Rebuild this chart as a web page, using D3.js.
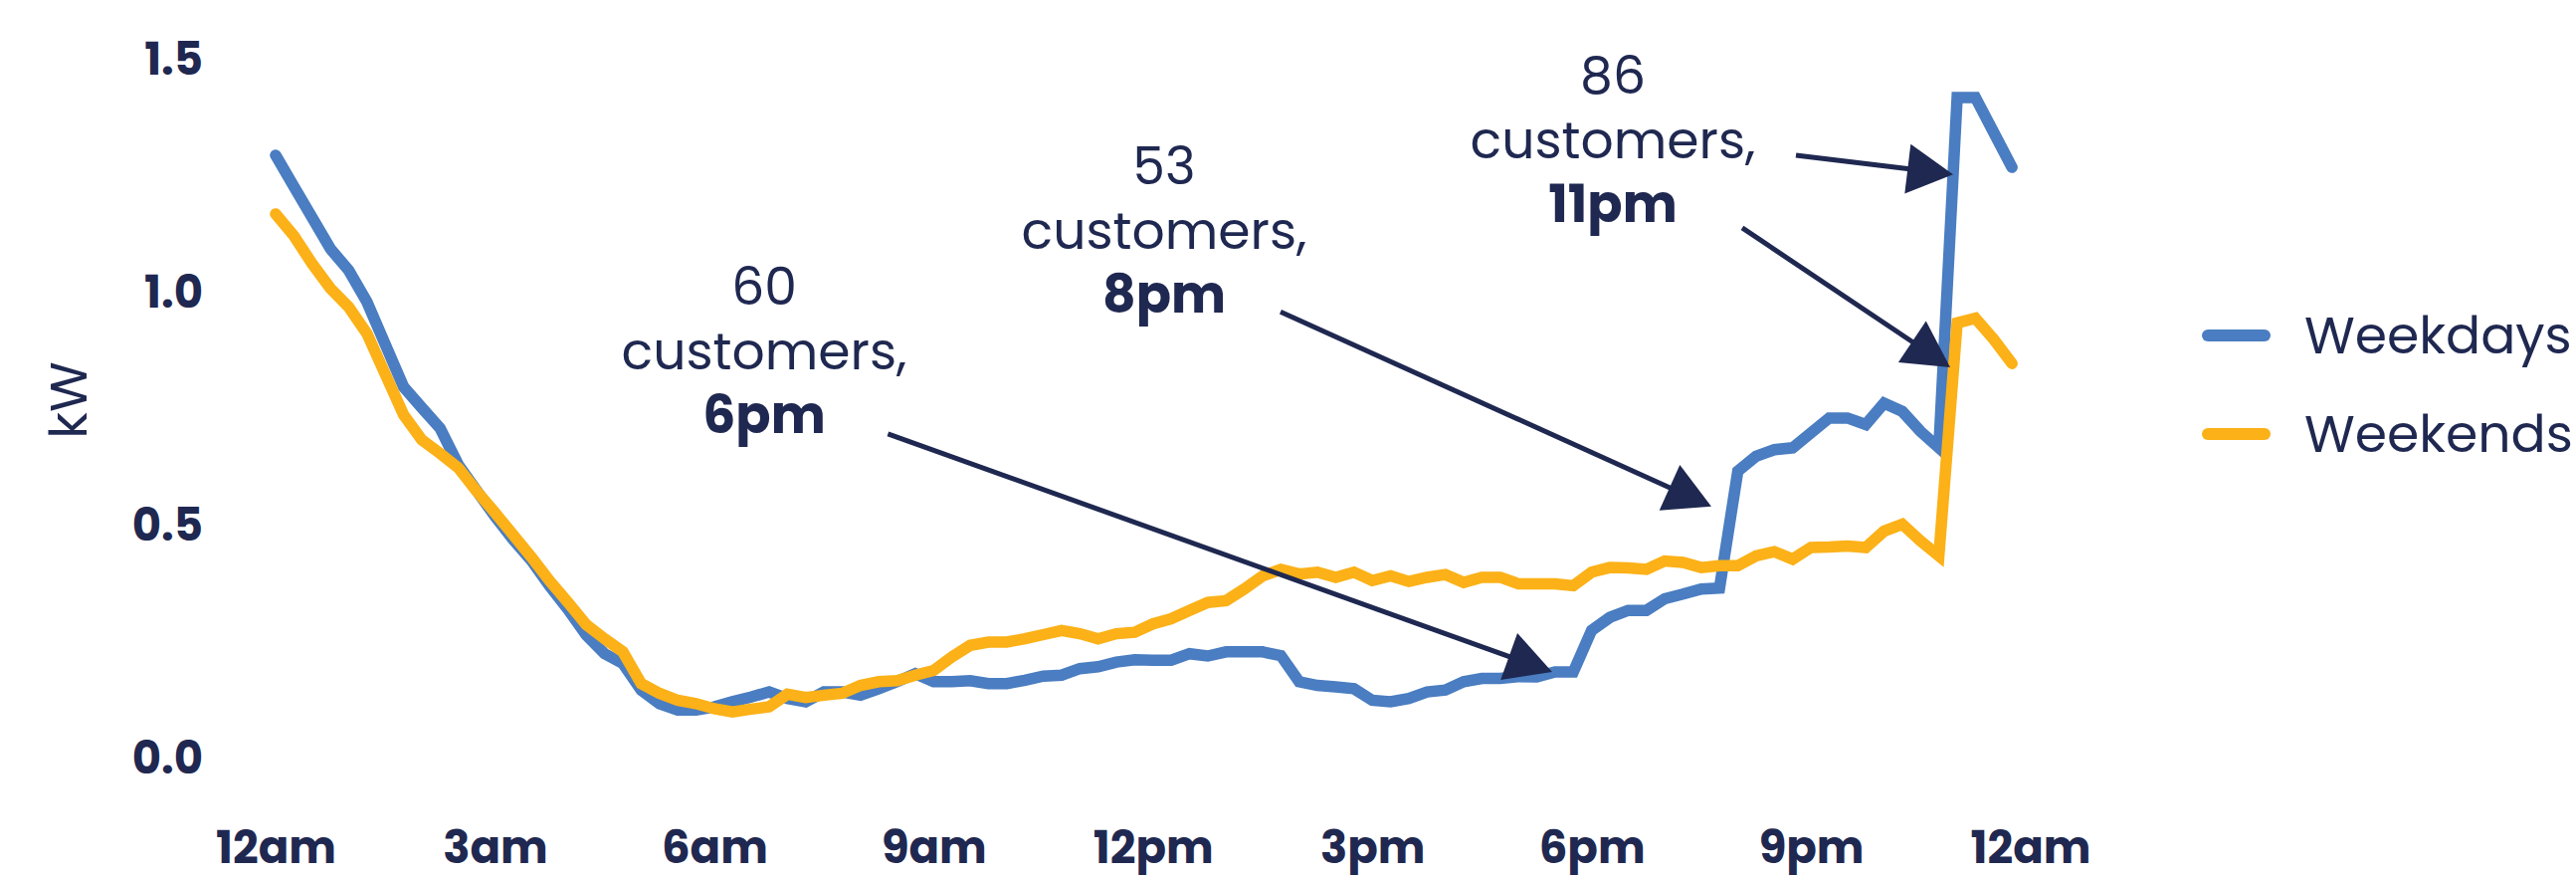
<!DOCTYPE html>
<html>
<head>
<meta charset="utf-8">
<script src="https://cdn.jsdelivr.net/npm/d3@7"></script>
<style>
    body { margin: 0; background: #ffffff; }
    svg { display: block; font-family: Poppins, "DejaVu Sans", sans-serif; }
</style>
</head>
<body>
<svg id="drawSpace" width="2589" height="882"></svg>
<script>
// Global settings
let textColor = "#1f2850"
let weekdayColor = "#4a7dc1"
let weekendColor = "#fbb117"

// Average load (kW) per 15 minute slot, 12am -> 11:45pm
let weekdays = [
    1.295, 1.228, 1.161, 1.094, 1.048, 0.980, 0.889, 0.798, 0.753, 0.709,
    0.630, 0.575, 0.520, 0.470, 0.425, 0.370, 0.320, 0.265, 0.225, 0.204,
    0.147, 0.118, 0.104, 0.104, 0.111, 0.122, 0.132, 0.143, 0.129, 0.122,
    0.143, 0.143, 0.136, 0.150, 0.165, 0.182, 0.165, 0.165, 0.167, 0.161,
    0.161, 0.168, 0.177, 0.179, 0.193, 0.197, 0.207, 0.212, 0.211, 0.211,
    0.225, 0.220, 0.229, 0.229, 0.229, 0.221, 0.165, 0.157, 0.154, 0.150,
    0.125, 0.122, 0.129, 0.143, 0.147, 0.165, 0.172, 0.172, 0.176, 0.175,
    0.186, 0.186, 0.275, 0.303, 0.318, 0.318, 0.343, 0.353, 0.364, 0.366,
    0.617, 0.649, 0.663, 0.667, 0.699, 0.731, 0.731, 0.717, 0.763, 0.745,
    0.702, 0.667, 1.419, 1.419, 1.344, 1.269
]
let weekends = [
    1.169, 1.122, 1.062, 1.009, 0.969, 0.912, 0.825, 0.738, 0.684, 0.655,
    0.624, 0.574, 0.528, 0.480, 0.432, 0.381, 0.335, 0.287, 0.257, 0.229,
    0.161, 0.140, 0.125, 0.118, 0.107, 0.100, 0.106, 0.111, 0.138, 0.131,
    0.136, 0.140, 0.157, 0.165, 0.167, 0.179, 0.189, 0.218, 0.243, 0.250,
    0.250, 0.257, 0.266, 0.275, 0.268, 0.257, 0.268, 0.271, 0.289, 0.300,
    0.318, 0.335, 0.339, 0.364, 0.392, 0.406, 0.396, 0.400, 0.389, 0.400,
    0.382, 0.392, 0.380, 0.389, 0.395, 0.378, 0.389, 0.389, 0.375, 0.375,
    0.375, 0.371, 0.400, 0.410, 0.409, 0.406, 0.424, 0.421, 0.410, 0.414,
    0.414, 0.435, 0.444, 0.428, 0.453, 0.454, 0.456, 0.453, 0.488, 0.503,
    0.467, 0.435, 0.935, 0.945, 0.900, 0.848
]

let seriesNames = ["Weekdays", "Weekends"]
let hourLabels = ["12am", "3am", "6am", "9am", "12pm", "3pm", "6pm", "9pm", "12am"]
let hourSlots = [0, 12, 24, 36, 48, 60, 72, 84, 96]
let kwTicks = [0, 0.5, 1.0, 1.5]

// Callouts: customer count and hour
let noteCounts = ["60", "53", "86"]
let noteTimes = ["6pm", "8pm", "11pm"]

// Callout layout (pixel text anchors, arrows in slot / kW space)
let noteLayout = [
    {x: 768, y: 306},
    {x: 1170, y: 185},
    {x: 1621, y: 94}
]
let arrowLayout = [
    {from: [33.5, 0.697], to: [69.84, 0.186]},
    {from: [54.98, 0.959], to: [78.55, 0.541]},
    {from: [80.24, 1.139], to: [91.62, 0.840]},
    {from: [83.18, 1.295], to: [91.78, 1.254]}
]

let xScale = d3.scaleLinear().domain([0, 96]).range([277, 2040.5])
let yScale = d3.scaleLinear().domain([0, 1.5]).range([762, 60])

function renderAxes(drawSpace) {
    let yAxis = d3.axisLeft(yScale)
        .tickValues(kwTicks)
        .tickFormat(d3.format(".1f"))
        .tickSize(0)
        .tickPadding(0)

    drawSpace.append("g")
        .attr("transform", "translate(204,0)")
        .call(yAxis)
        .call(g => g.select(".domain").remove())
        .attr("font-family", null)
        .attr("font-size", 45)
        .attr("font-weight", "bold")
        .selectAll("text").attr("fill", textColor)

    let xAxis = d3.axisBottom(xScale)
        .tickValues(hourSlots)
        .tickFormat((d, i) => hourLabels[i])
        .tickSize(0)
        .tickPadding(73)

    drawSpace.append("g")
        .attr("transform", "translate(0,762)")
        .call(xAxis)
        .call(g => g.select(".domain").remove())
        .attr("font-family", null)
        .attr("font-size", 45)
        .attr("font-weight", "bold")
        .selectAll("text").attr("fill", textColor)

    // Axis title
    drawSpace.append("text")
        .attr("transform", "translate(68,402) rotate(-90)")
        .attr("text-anchor", "middle")
        .attr("dominant-baseline", "central")
        .attr("font-size", 52)
        .attr("fill", textColor)
        .text("kW")
}

function renderLines(drawSpace) {
    let lineGen = d3.line()
        .x((d, i) => xScale(i))
        .y(d => yScale(d))

    drawSpace.selectAll("path.series")
        .data([
            {name: seriesNames[0], values: weekdays, color: weekdayColor},
            {name: seriesNames[1], values: weekends, color: weekendColor}
        ])
        .enter()
        .append("path")
        .attr("class", "series")
        .attr("d", d => lineGen(d.values))
        .attr("fill", "none")
        .attr("stroke", d => d.color)
        .attr("stroke-width", 11.5)
        .attr("stroke-linecap", "round")
        .attr("stroke-linejoin", "miter")
}

function renderCallouts(drawSpace) {
    let lineHeight = 64.5

    noteLayout.forEach((pos, i) => {
        let t = drawSpace.append("text")
            .attr("text-anchor", "middle")
            .attr("font-size", 52)
            .attr("fill", textColor)
        t.append("tspan").attr("x", pos.x).attr("y", pos.y).text(noteCounts[i])
        t.append("tspan").attr("x", pos.x).attr("y", pos.y + lineHeight).text("customers,")
        t.append("tspan").attr("x", pos.x).attr("y", pos.y + 2 * lineHeight)
            .attr("font-weight", "bold").text(noteTimes[i])
    })

    // Arrows: shaft up to the head base, then a filled triangle
    let headLen = 46, headHalf = 25
    arrowLayout.forEach(a => {
        let x0 = xScale(a.from[0]), y0 = yScale(a.from[1])
        let x1 = xScale(a.to[0]), y1 = yScale(a.to[1])
        let len = Math.hypot(x1 - x0, y1 - y0)
        let ux = (x1 - x0) / len, uy = (y1 - y0) / len
        let bx = x1 - ux * headLen, by = y1 - uy * headLen

        drawSpace.append("line")
            .attr("x1", x0).attr("y1", y0)
            .attr("x2", bx + ux * 4).attr("y2", by + uy * 4)
            .attr("stroke", textColor)
            .attr("stroke-width", 5)

        let head = d3.path()
        head.moveTo(x1, y1)
        head.lineTo(bx - uy * headHalf, by + ux * headHalf)
        head.lineTo(bx + uy * headHalf, by - ux * headHalf)
        head.closePath()
        drawSpace.append("path")
            .attr("d", head.toString())
            .attr("fill", textColor)
    })
}

function renderLegend(drawSpace) {
    let legendY = [337, 436]
    let colors = [weekdayColor, weekendColor]

    let items = drawSpace.selectAll("g.legend")
        .data(seriesNames)
        .enter()
        .append("g")
        .attr("class", "legend")
        .attr("transform", (d, i) => "translate(0," + legendY[i] + ")")

    items.append("line")
        .attr("x1", 2219).attr("x2", 2276)
        .attr("stroke", (d, i) => colors[i])
        .attr("stroke-width", 12)
        .attr("stroke-linecap", "round")

    items.append("text")
        .attr("x", 2316)
        .attr("y", 18)
        .attr("font-size", 52)
        .attr("fill", textColor)
        .text(d => d)
}

function main() {
    let drawSpace = d3.select("#drawSpace")
    renderAxes(drawSpace)
    renderLines(drawSpace)
    renderCallouts(drawSpace)
    renderLegend(drawSpace)
}

main();
</script>
</body>
</html>
